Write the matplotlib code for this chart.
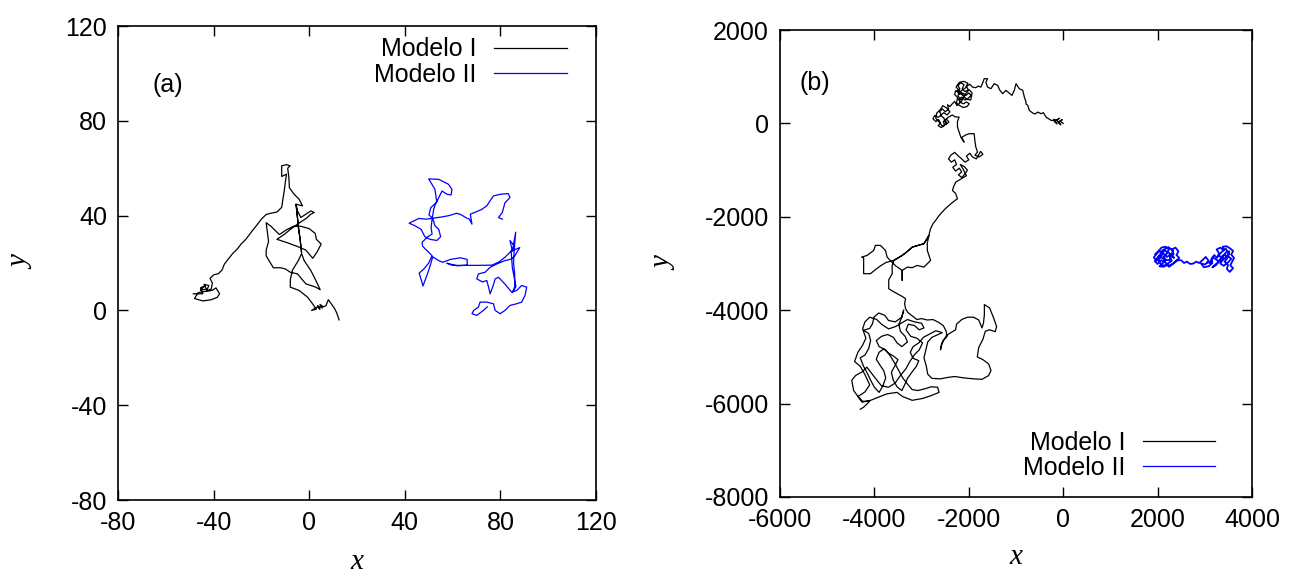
import numpy as np
import matplotlib.pyplot as plt

plt.rcParams['font.family'] = ['Liberation Sans', 'DejaVu Sans']
plt.rcParams['axes.unicode_minus'] = False

# --- painel (a): trajetorias curtas, pares (x, y) ---
a1_xy = [
    (-48.5, 7.0), (-44.5, 7.0), (-45.5, 9.5), (-43.5, 10.5), (-45.5, 8.5), (-43.0, 9.0), (-44.0, 11.0),
    (-42.0, 10.5), (-43.0, 8.0), (-40.5, 8.5), (-39.0, 9.5), (-37.5, 7.0), (-38.5, 5.5), (-41.0, 4.5),
    (-44.5, 4.0), (-48.0, 5.0), (-46.5, 7.5), (-43.5, 8.0), (-41.0, 9.0), (-40.5, 11.5), (-41.5, 13.5),
    (-40.0, 15.0), (-38.0, 15.5), (-36.5, 17.0), (-35.5, 19.5), (-34.0, 21.5), (-32.0, 24.0), (-30.0, 26.0),
    (-28.5, 28.0), (-26.5, 30.0), (-25.0, 32.0), (-23.5, 34.0), (-21.5, 36.5), (-20.0, 38.5), (-18.0, 40.5),
    (-16.0, 41.0), (-13.5, 41.5), (-11.5, 43.5), (-11.0, 47.0), (-10.5, 50.0), (-10.0, 54.0), (-9.5, 57.5),
    (-11.5, 56.5), (-11.5, 61.0), (-9.5, 61.5), (-8.0, 61.0), (-9.0, 60.0), (-8.5, 56.0), (-8.3, 51.8),
    (-6.3, 49.0), (-4.2, 46.9), (-2.8, 44.1), (-5.5, 44.8), (-5.0, 40.0), (-4.5, 35.0), (-3.8, 30.0),
    (-3.2, 24.5), (-3.8, 30.0), (-4.5, 35.0), (-5.0, 40.0), (-5.5, 44.8), (-4.9, 42.0), (-3.5, 39.2),
    (-1.4, 40.6), (0.7, 42.0), (2.1, 41.3), (0.5, 40.5), (-1.0, 39.0), (-4.0, 37.0), (-7.5, 34.5),
    (-10.5, 32.0), (-13.5, 30.0), (-9.0, 28.5), (-5.0, 27.0), (-1.5, 25.5), (1.5, 22.0), (3.5, 25.0),
    (5.0, 28.0), (3.0, 30.0), (2.5, 32.5), (0.0, 34.5), (-3.5, 35.5), (-6.5, 35.5), (-9.5, 34.0),
    (-12.5, 32.0), (-14.0, 33.5), (-16.0, 35.5), (-18.0, 37.0), (-17.5, 33.0), (-17.0, 29.0), (-18.0, 25.5),
    (-18.0, 23.0), (-16.5, 20.5), (-15.0, 18.0), (-12.0, 18.0), (-10.0, 17.5), (-7.9, 16.1), (-4.9, 15.4),
    (-1.4, 11.2), (2.8, 9.8), (4.6, 8.7), (2.8, 12.6), (0.7, 16.8), (-2.1, 21.0), (-3.2, 24.0),
    (-4.5, 21.1), (-7.0, 17.0), (-7.9, 13.0), (-7.9, 9.8), (-4.2, 8.4), (-0.7, 5.6), (1.4, 2.8),
    (3.0, 0.5), (1.0, 0.0), (3.5, 1.5), (4.5, 0.5), (3.5, 2.0), (5.5, 1.0), (4.5, 2.5), (6.0, 1.5),
    (7.0, 2.0), (8.0, 4.5), (10.5, 1.0), (11.5, -1.0), (12.5, -4.0),
]

a2_xy = [
    (80.8, 38.5), (79.2, 39.2), (80.8, 41.3), (81.9, 45.4), (84.0, 47.6), (83.3, 49.3), (80.0, 49.0),
    (77.1, 48.3), (75.5, 46.0), (74.3, 44.1), (72.0, 42.5), (70.1, 41.7), (67.4, 40.6), (68.1, 36.4),
    (67.0, 38.5), (65.8, 39.0), (63.3, 40.5), (61.7, 41.0), (58.5, 40.0), (55.9, 39.5), (52.5, 39.0),
    (49.0, 38.5), (45.9, 38.8), (41.8, 36.8), (44.3, 35.7), (46.8, 34.2), (48.4, 31.1), (50.5, 30.0),
    (53.4, 29.5), (55.0, 31.1), (54.2, 34.2), (52.6, 35.7), (51.7, 38.8), (50.1, 40.3), (50.9, 43.4),
    (53.4, 45.7), (52.6, 51.1), (50.0, 55.5), (54.2, 55.3), (58.3, 53.2), (59.7, 51.1), (59.4, 48.7),
    (57.6, 49.0), (55.6, 50.4), (54.2, 47.6), (52.8, 44.8), (52.1, 42.7), (51.5, 39.0), (51.0, 35.0),
    (51.4, 32.2), (49.5, 31.0), (47.2, 28.7), (47.5, 27.0), (49.5, 25.0), (51.4, 23.1), (50.0, 20.0),
    (48.0, 17.5), (46.0, 15.7), (47.0, 12.5), (47.6, 10.3), (49.3, 14.9), (50.5, 18.5), (51.7, 22.6),
    (54.2, 21.0), (55.9, 20.3), (59.0, 21.5), (63.3, 22.2), (66.1, 21.5), (66.1, 19.1), (62.0, 18.8),
    (57.6, 19.9), (60.0, 19.0), (70.0, 19.0), (76.5, 19.1), (79.5, 20.5), (82.0, 22.5), (84.0, 24.5),
    (86.0, 27.0), (84.0, 29.5), (85.0, 25.0), (86.4, 33.0), (85.8, 26.0), (85.5, 20.0), (86.0, 15.0),
    (86.0, 10.0), (85.0, 7.5), (86.5, 10.0), (85.0, 18.0), (84.5, 25.0), (88.1, 26.5), (86.0, 23.0),
    (84.7, 21.7), (81.9, 21.0), (78.5, 19.6), (75.7, 18.2), (73.6, 16.1), (70.8, 15.4), (70.1, 13.3),
    (72.5, 12.0), (74.3, 12.6), (75.0, 10.0), (75.7, 7.0), (77.0, 10.5), (77.8, 13.3), (79.2, 14.0),
    (82.0, 11.0), (84.7, 7.7), (86.8, 8.4), (88.9, 10.5), (91.0, 9.8), (90.3, 6.3), (88.9, 3.5),
    (86.8, 2.8), (84.0, 2.1), (81.9, 0.0), (79.9, -1.4), (77.8, 0.0), (77.1, 2.8), (74.3, 3.5),
    (71.5, 3.5), (70.8, 1.4), (68.8, 0.0), (68.1, -1.4), (70.1, -2.1), (72.9, 0.0), (74.5, 1.5),
]

# --- painel (b): trajetorias longas ---
b1_xy = [
    # emaranhado perto da origem
    (0, 0), (-60, 40), (-20, 80), (-110, 30), (-50, -30), (-140, 70), (-80, 110), (-190, 40),
    (-130, -10), (-200, 90), (-149, 64),
    # trecho superior
    (-255, 64), (-362, 135), (-420, 230), (-468, 208), (-538, 242), (-600, 200), (-645, 221),
    (-717, 278), (-751, 385), (-790, 420), (-787, 456), (-823, 563), (-857, 707), (-930, 743),
    (-1000, 850), (-1036, 707), (-1085, 600), (-1143, 649), (-1213, 707), (-1283, 636), (-1340, 707),
    (-1389, 814), (-1462, 850), (-1532, 743), (-1602, 777), (-1638, 884), (-1602, 957), (-1674, 957),
    (-1700, 880), (-1745, 777), (-1800, 800), (-1851, 764), (-1921, 777),
    # aglomerado superior
    (-1980, 840), (-2050, 790), (-2010, 720), (-2080, 680), (-2140, 740), (-2100, 830), (-2170, 870),
    (-2230, 810), (-2190, 740), (-2250, 690), (-2200, 620), (-2130, 650), (-2060, 600), (-2000, 650),
    (-1950, 600), (-2010, 540), (-2080, 500), (-2150, 560), (-2220, 520), (-2180, 450), (-2110, 420),
    (-2050, 460), (-1990, 420), (-2040, 360), (-2120, 340), (-2190, 380), (-2260, 430), (-2240, 560),
    (-2300, 620), (-2280, 700), (-2170, 660), (-2100, 560), (-2180, 500), (-2230, 600), (-2160, 700),
    (-2070, 760), (-2020, 860), (-2100, 900), (-2200, 880), (-2270, 780), (-2200, 700), (-2120, 600),
    (-2050, 520), (-1960, 500), (-1930, 650), (-1990, 720), (-2080, 620), (-2150, 480), (-2250, 380),
    (-2300, 470),
    (-2350, 420), (-2400, 360), (-2450, 400), (-2430, 300), (-2500, 250), (-2560, 310), (-2620, 250),
    (-2580, 180), (-2650, 130), (-2720, 170), (-2760, 100), (-2700, 40), (-2640, 80), (-2600, 10),
    (-2650, -50), (-2580, -90), (-2510, -40), (-2540, 40), (-2470, 90), (-2420, 30), (-2480, -20),
    (-2530, 120), (-2600, 170), (-2530, 230), (-2460, 180), (-2400, 250), (-2470, 330), (-2550, 380),
    (-2600, 300), (-2680, 220), (-2700, 110), (-2620, 20), (-2560, -60), (-2470, 0), (-2500, 80),
    (-2420, 140), (-2350, 180), (-2290, 140), (-2206, 135),
    # descida
    (-2240, 40), (-2240, -79), (-2206, -186), (-2170, -293), (-2100, -400), (-2150, -300), (-2070, -250),
    (-1994, -221), (-1887, -221), (-1870, -380), (-1851, -507), (-1815, -615),
    # aglomerado do meio
    (-1870, -680), (-1780, -720), (-1700, -660), (-1750, -600), (-1840, -760), (-1920, -720),
    (-1980, -640), (-2050, -700), (-2000, -780), (-2080, -830), (-2150, -760), (-2220, -700),
    (-2300, -620), (-2380, -680), (-2430, -760), (-2370, -830), (-2300, -780), (-2260, -880),
    (-2340, -940), (-2280, -1020), (-2200, -960), (-2150, -1040), (-2220, -1100), (-2150, -1160),
    (-2080, -1080), (-2030, -1000), (-2100, -920), (-2180, -880), (-2120, -980), (-2050, -1120),
    (-2100, -1150),
    (-2180, -1200), (-2277, -1257), (-2320, -1350), (-2347, -1435), (-2280, -1500), (-2240, -1612),
    (-2330, -1680), (-2419, -1756), (-2500, -1830), (-2596, -1934), (-2650, -2000), (-2702, -2077),
    (-2760, -2150), (-2809, -2255), (-2830, -2330), (-2845, -2400),
    # lacos em torno de y = -3000
    (-2879, -2560), (-2879, -2720), (-2809, -2934), (-2951, -3077), (-3092, -3041), (-3200, -3090),
    (-3304, -3077), (-3411, -3148), (-3411, -3360), (-3411, -3148), (-3550, -3050), (-3650, -2950),
    (-3730, -2863), (-3766, -2720), (-3872, -2612), (-3979, -2612), (-4015, -2720), (-4155, -2827),
    (-4270, -2863), (-4228, -2880), (-4228, -3050), (-4228, -3218), (-4085, -3218), (-3909, -3077),
    (-3760, -2980), (-3650, -2950), (-3589, -2934), (-3500, -2880), (-3411, -2827), (-3300, -2740),
    (-3198, -2649), (-3070, -2610), (-2951, -2576), (-2845, -2400),
    (-2951, -2576), (-3070, -2610), (-3198, -2649), (-3300, -2740), (-3411, -2827), (-3500, -2880),
    (-3589, -2934), (-3624, -3041), (-3623, -3218), (-3696, -3350), (-3696, -3540), (-3600, -3600),
    (-3517, -3647), (-3420, -3700), (-3340, -3754), (-3360, -3860), (-3340, -3968),
    # aglomerado inferior
    (-3290, -4050), (-3200, -4120), (-3100, -4200), (-3000, -4180), (-2880, -4210), (-2760, -4200),
    (-2640, -4260), (-2540, -4330), (-2480, -4450), (-2460, -4560), (-2540, -4650), (-2590, -4780),
    (-2600, -4850), (-2570, -4700), (-2470, -4540), (-2380, -4480), (-2280, -4420), (-2260, -4300),
    (-2150, -4200), (-2030, -4150), (-1900, -4150), (-1790, -4210), (-1720, -4380), (-1690, -4280),
    (-1670, -4100), (-1670, -3880), (-1560, -3950), (-1480, -4150), (-1410, -4350), (-1440, -4460),
    (-1560, -4420), (-1650, -4450), (-1700, -4620), (-1790, -4800), (-1820, -5000), (-1700, -5060),
    (-1580, -5150), (-1530, -5290), (-1580, -5400), (-1720, -5480), (-1900, -5470), (-2100, -5450),
    (-2300, -5420), (-2450, -5440), (-2600, -5470), (-2780, -5460), (-2870, -5370), (-2900, -5200),
    (-2950, -5020), (-2910, -4850), (-2870, -4680), (-2780, -4580), (-2650, -4520), (-2560, -4480),
    (-2700, -4440), (-2830, -4510), (-2960, -4580), (-3060, -4700), (-3180, -4780), (-3240, -4900),
    (-3180, -5030), (-3060, -5080), (-3110, -5200), (-3200, -5320), (-3300, -5460), (-3360, -5600),
    (-3420, -5720), (-3520, -5640), (-3600, -5500), (-3640, -5330), (-3560, -5180), (-3500, -5060),
    (-3600, -4980), (-3700, -4920), (-3800, -4830), (-3900, -4900), (-3960, -5050), (-3880, -5180),
    (-3800, -5300), (-3760, -5450), (-3820, -5620), (-3900, -5760), (-4000, -5650), (-4080, -5500),
    (-4150, -5350), (-4230, -5200), (-4300, -5020), (-4200, -4960), (-4120, -4820), (-4080, -4650),
    (-4120, -4500), (-4230, -4430), (-4100, -4390), (-4040, -4290), (-4010, -4150), (-3910, -4060),
    (-3780, -4110), (-3700, -4220), (-3560, -4250), (-3420, -4150), (-3380, -4000), (-3420, -4150),
    (-3480, -4300), (-3450, -4450), (-3350, -4560), (-3300, -4680), (-3420, -4780), (-3520, -4700),
    (-3600, -4580), (-3720, -4520), (-3850, -4560), (-3960, -4650), (-3900, -4780), (-3760, -4850),
    (-3650, -5000), (-3560, -5150), (-3480, -5300), (-3400, -5450), (-3300, -5580), (-3200, -5700),
    (-3080, -5720), (-2920, -5680), (-2800, -5640), (-2660, -5650), (-2630, -5760), (-2800, -5830),
    (-2980, -5890), (-3200, -5930), (-3400, -5850), (-3520, -5760), (-3730, -5790), (-3910, -5860),
    (-4080, -5930), (-4260, -5970), (-4440, -5720), (-4480, -5500), (-4400, -5400), (-4260, -5320),
    (-4160, -5220), (-4000, -5430), (-3850, -5620), (-3700, -5650), (-3560, -5560), (-3450, -5400),
    (-3330, -5250), (-3250, -5100), (-3150, -4950), (-3050, -4850), (-2980, -4700), (-3100, -4600),
    (-3230, -4560), (-3330, -4420), (-3280, -4300), (-3150, -4330), (-3050, -4420), (-2950, -4380),
    (-3000, -4280), (-3150, -4250), (-3300, -4200), (-3550, -4350), (-3700, -4400), (-3850, -4300),
    (-3950, -4200), (-4100, -4150), (-4200, -4250), (-4250, -4400), (-4180, -4600), (-4250, -4750),
    (-4350, -4900), (-4420, -5100), (-4300, -5200), (-4200, -5380), (-4100, -5600), (-4200, -5750),
    (-4350, -5850), (-4250, -5950), (-4100, -5950), (-4230, -6080), (-4300, -6120),
]

b2_xy = [
    (1950, -2800), (2030, -2720), (2100, -2800), (2060, -2880), (1980, -2940), (1920, -2870),
    (1990, -2780), (2080, -2660), (2170, -2640), (2240, -2700), (2200, -2780), (2130, -2850),
    (2180, -2930), (2100, -3000), (2040, -3060), (2130, -3070), (2220, -3000), (2300, -2940),
    (2260, -2860), (2340, -2800), (2300, -2700), (2380, -2660), (2440, -2740), (2400, -2820),
    (2460, -2880), (2380, -2950), (2310, -3020), (2240, -3070), (2180, -2990), (2080, -2930),
    (2000, -3010), (1940, -2950), (2010, -2860), (2150, -2720), (2250, -2780), (2350, -2880),
    (2280, -2800), (2200, -2860), (2120, -2780), (2050, -2830), (2140, -2920), (2250, -2930),
    (2330, -2730), (2230, -2650), (2100, -2720), (2000, -2900), (2090, -3040), (2270, -3040),
    (2430, -2930),
    (2500, -2930), (2560, -2990), (2620, -2960), (2690, -3010), (2760, -3000), (2820, -2960),
    (2880, -2990),
    (2950, -2930), (3020, -2860), (3080, -2940), (3010, -3020), (2920, -3000), (2980, -3080),
    (3080, -3060), (3160, -2990), (3140, -2900), (3200, -2820), (3260, -2880), (3300, -2780),
    (3250, -2700), (3330, -2660), (3400, -2720), (3380, -2640), (3460, -2630), (3540, -2680),
    (3600, -2730), (3560, -2810), (3620, -2880), (3580, -2960), (3540, -3040), (3600, -3100),
    (3530, -3180), (3470, -3120), (3490, -3030), (3420, -2960), (3480, -2880), (3420, -2800),
    (3350, -2860), (3300, -2960), (3230, -3040), (3160, -3080), (3250, -3000), (3340, -2920),
    (3450, -2760), (3520, -2740), (3480, -2830), (3560, -2900), (3500, -2970), (3400, -3050),
    (3330, -3000), (3380, -2880), (3290, -2830), (3360, -2750), (3440, -2680), (3520, -2800),
    (3430, -2880), (3350, -2960), (3260, -2930), (3180, -2870), (3100, -2990), (3150, -2960),
    (3060, -2980),
]

rotulos = ['Modelo I', 'Modelo II']
cores = ['black', 'blue']

fig = plt.figure(figsize=(12.89, 5.78), dpi=100)
ax_a = fig.add_axes([118/1289, 1-500/578, 478/1289, 474/578])
ax_b = fig.add_axes([780/1289, 1-497/578, 472/1289, 467/578])

paineis = [
    # eixo, series, espessuras, xlim, ylim, passo, rotulo, pos. rotulo, ancora legenda, loc, pos. x/y label
    (ax_a, [a1_xy, a2_xy], [0.9, 0.9], (-80, 120), (-80, 120), 40, '(a)', (0.073, 0.876),
     (0.939, 0.976), 'upper right', (-0.104, -0.174)),
    (ax_b, [b1_xy, b2_xy], [0.9, 1.3], (-6000, 4000), (-8000, 2000), 2000, '(b)', (0.042, 0.887),
     (0.922, 0.036), 'lower right', (-0.100, -0.218)),
]

for ax, series, lws, xl, yl, passo, tag, pos, anc, loc, lab in paineis:
    for pts, rot, cor, lw in zip(series, rotulos, cores, lws):
        xs, ys = np.array(pts, dtype=float).T
        ax.plot(xs, ys, color=cor, lw=lw, label=rot)
    ax.set_xlim(*xl)
    ax.set_ylim(*yl)
    ax.set_xticks(np.arange(xl[0], xl[1] + 1, passo))
    ax.set_yticks(np.arange(yl[0], yl[1] + 1, passo))
    ax.tick_params(direction='in', length=7, width=1, top=True, right=True, labelsize=18, pad=8)
    for s in ax.spines.values():
        s.set_linewidth(1.2)
    ax.set_xlabel('x', fontsize=21, family='Liberation Serif', style='italic')
    ax.set_ylabel('y', fontsize=21, family='Liberation Serif', style='italic')
    ax.xaxis.set_label_coords(0.5, lab[0])
    ax.yaxis.set_label_coords(lab[1], 0.5)
    ax.text(pos[0], pos[1], tag, transform=ax.transAxes, fontsize=18, va='center')
    leg = ax.legend(loc=loc, bbox_to_anchor=anc, frameon=False, markerfirst=False, fontsize=18,
                    handlelength=2.9, handletextpad=0.7, labelspacing=0.05, borderaxespad=0,
                    borderpad=0)
    for h in leg.get_lines():
        h.set_linewidth(0.9)

fig.savefig('out.png', dpi=100)
